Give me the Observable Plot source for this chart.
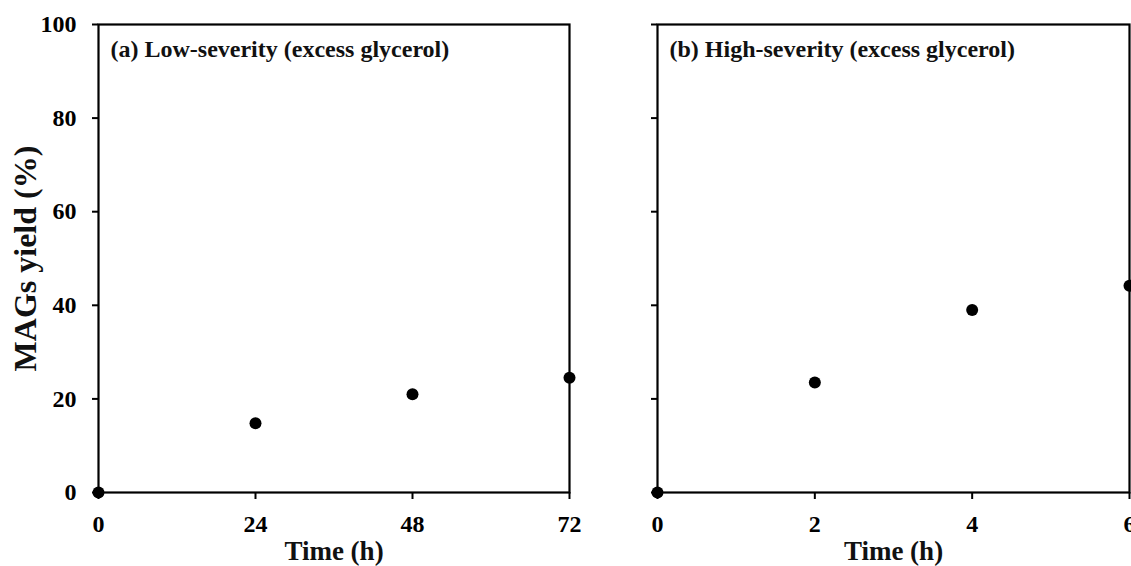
<!DOCTYPE html>
<html>
<head>
<meta charset="utf-8">
<script src="https://cdn.jsdelivr.net/npm/d3@7"></script>
<script src="https://cdn.jsdelivr.net/npm/@observablehq/plot@0.6"></script>
<style>
  html, body { margin: 0; padding: 0; background: #fff; overflow: hidden; }
  #wrap { position: relative; width: 1131px; height: 566px; }
  #wrap svg { position: absolute; top: 0; overflow: visible; }
</style>
</head>
<body>
<div id="wrap"></div>
<script>
// Panel (a): low-severity
const timeA = [0, 24, 48, 72];
const yieldA = [0, 14.8, 21.0, 24.5];
const ticksA = [0, 24, 48, 72];
// Panel (b): high-severity
const timeB = [0, 2, 4, 6];
const yieldB = [0, 23.5, 39.0, 44.2];
const ticksB = [0, 2, 4, 6];
const yTicks = [0, 20, 40, 60, 80, 100];

const titleA = "(a) Low-severity (excess glycerol)";
const titleB = "(b) High-severity (excess glycerol)";
const xLabel = "Time (h)";
const yLabel = "MAGs yield (%)";

const FONT = "'Liberation Serif', 'Times New Roman', serif";

function panel({times, yields, xTicks, xMax, title, width, marginLeft, marginRight, showYLabels}) {
  const data = times.map((t, i) => ({t, y: yields[i]}));
  const marks = [
    Plot.axisX(xTicks, {tickSize: 7, tickPadding: 15, fontSize: 24, fontWeight: "bold", strokeWidth: 2, label: null, tickFormat: d => String(d)}),
    Plot.axisY(yTicks, {tickSize: 6, tickPadding: 16, fontSize: 24, fontWeight: "bold", strokeWidth: 2, label: null,
      tickFormat: showYLabels ? (d => String(d)) : (() => "")}),
    Plot.frame({stroke: "#000", strokeWidth: 2.2}),
    Plot.dot(data, {x: "t", y: "y", r: 6, fill: "#000", stroke: null}),
    Plot.text([title], {frameAnchor: "top-left", dx: 12, dy: 25, text: d => d, fontSize: 24, fontWeight: "bold", lineAnchor: "middle", textAnchor: "start", fill: "#111"}),
    Plot.text([xLabel], {frameAnchor: "bottom", dy: 59, text: d => d, fontSize: 27, fontWeight: "bold", lineAnchor: "middle", textAnchor: "middle", fill: "#111"})
  ];
  if (showYLabels) {
    marks.push(Plot.text([yLabel], {frameAnchor: "left", dx: -73, text: d => d, rotate: -90, fontSize: 32, fontWeight: "bold", lineAnchor: "middle", textAnchor: "middle", fill: "#111"}));
  }
  return Plot.plot({
    width, height: 566,
    marginLeft, marginRight, marginTop: 24, marginBottom: 74,
    style: {fontFamily: FONT, color: "#000", background: "transparent"},
    x: {domain: [0, xMax]},
    y: {domain: [0, 100]},
    marks
  });
}

const wrap = document.getElementById("wrap");
const a = panel({times: timeA, yields: yieldA, xTicks: ticksA, xMax: 72, title: titleA, width: 600, marginLeft: 98, marginRight: 31, showYLabels: true});
a.style.left = "0px";
wrap.appendChild(a);
const b = panel({times: timeB, yields: yieldB, xTicks: ticksB, xMax: 6, title: titleB, width: 531, marginLeft: 57, marginRight: 2, showYLabels: false});
b.style.left = "600px";
wrap.appendChild(b);
</script>
</body>
</html>
